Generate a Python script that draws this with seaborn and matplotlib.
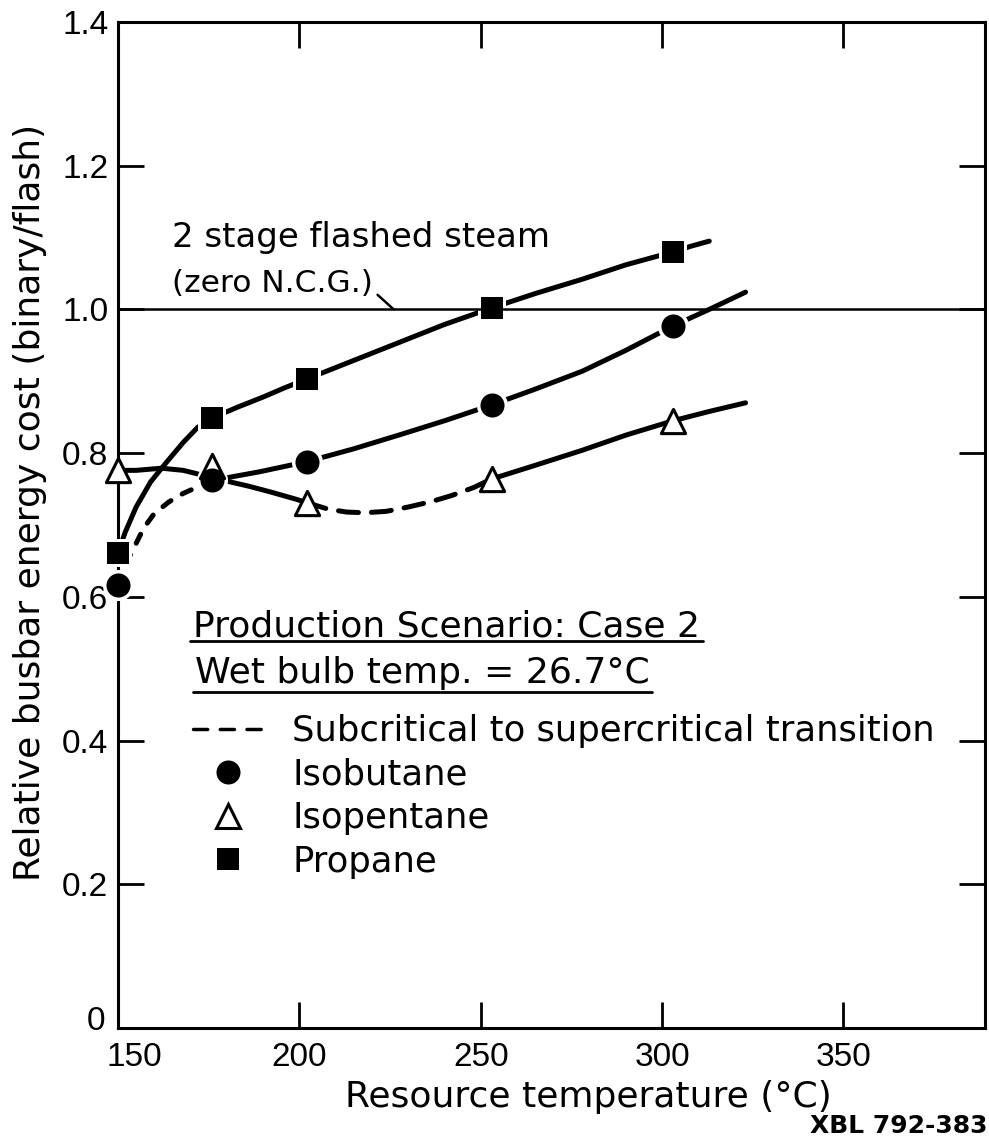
import matplotlib
matplotlib.use('Agg')
import matplotlib.pyplot as plt
import matplotlib.transforms as mtransforms
import seaborn as sns
from matplotlib.lines import Line2D

# marker positions (resource temperature, degC) and relative cost values
temps = [150, 176, 202, 253, 303]
isobutane = [0.616, 0.762, 0.788, 0.867, 0.977]
isopentane = [0.776, 0.782, 0.731, 0.764, 0.845]
propane = [0.661, 0.849, 0.903, 1.002, 1.080]

# hand-drawn curves
propane_T = [150, 152, 155, 159, 163, 168, 172, 176, 183, 190, 196, 202, 215, 228, 240, 253,
             265, 278, 290, 303, 308, 313]
propane_v = [0.661, 0.690, 0.725, 0.760, 0.785, 0.815, 0.836, 0.849, 0.864, 0.878, 0.891, 0.903,
             0.929, 0.955, 0.979, 1.002, 1.022, 1.042, 1.062, 1.080, 1.088, 1.095]

isobutane_dash_T = [150, 152, 154, 157, 160, 164, 168, 172, 176]
isobutane_dash_v = [0.616, 0.645, 0.664, 0.695, 0.716, 0.732, 0.744, 0.753, 0.762]
isobutane_T = [176, 189, 202, 215, 228, 240, 253, 265, 278, 290, 303, 313, 323]
isobutane_v = [0.762, 0.774, 0.788, 0.806, 0.826, 0.845, 0.867, 0.889, 0.914, 0.943, 0.977, 1.000, 1.024]

isopentane_T1 = [150, 155, 162, 168, 172, 176, 180, 186, 192, 199, 202]
isopentane_v1 = [0.776, 0.776, 0.779, 0.776, 0.771, 0.764, 0.761, 0.754, 0.746, 0.736, 0.731]
isopentane_dash_T = [202, 208, 213, 218, 224, 230, 236, 242, 248, 253]
isopentane_dash_v = [0.731, 0.722, 0.718, 0.717, 0.719, 0.725, 0.732, 0.741, 0.752, 0.764]
isopentane_T2 = [253, 265, 278, 290, 303, 313, 323]
isopentane_v2 = [0.764, 0.783, 0.804, 0.825, 0.845, 0.858, 0.870]

flash_ref = 1.0

x_ticks = [150, 200, 250, 300, 350]
y_ticks = [0, 0.2, 0.4, 0.6, 0.8, 1.0, 1.2, 1.4]
y_ticklabels = ['0', '0.2', '0.4', '0.6', '0.8', '1.0', '1.2', '1.4']

sns.set_style('ticks')
plt.rcParams['font.family'] = ['DejaVu Sans']
plt.rcParams['text.color'] = 'black'
plt.rcParams['axes.labelcolor'] = 'black'

fig = plt.figure(figsize=(9.89, 11.43), dpi=100)
ax = fig.add_axes([0.1193, 0.1006, 0.8766, 0.8802])

LW = 3.6


def curve(xs, ys, dashes=None):
    ls = (0, dashes) if dashes else '-'
    sns.lineplot(x=xs, y=ys, sort=False, estimator=None, color='black', lw=LW,
                 linestyle=ls, dash_capstyle='round', solid_capstyle='round',
                 ax=ax, zorder=2)


curve(propane_T, propane_v)
curve(isobutane_dash_T, isobutane_dash_v, dashes=(2, 2.6))
curve(isobutane_T, isobutane_v)
curve(isopentane_T1, isopentane_v1)
curve(isopentane_dash_T, isopentane_dash_v, dashes=(4, 2.6))
curve(isopentane_T2, isopentane_v2)

ax.axhline(flash_ref, color='black', lw=1.8, zorder=3.5)

# white halos so the curves stop short of the symbols, like the pen drawing
sns.scatterplot(x=temps, y=isobutane, marker='o', s=500, color='white', linewidth=0,
                ax=ax, zorder=3, clip_on=False)
sns.scatterplot(x=temps, y=propane, marker='s', s=430, color='white', linewidth=0,
                ax=ax, zorder=3, clip_on=False)

sns.scatterplot(x=temps, y=isopentane, marker='^', s=305, color='white', edgecolor='black',
                linewidth=2.2, ax=ax, zorder=4, clip_on=False)
sns.scatterplot(x=temps, y=isobutane, marker='o', s=300, color='black', linewidth=0,
                ax=ax, zorder=4.5, clip_on=False)
sns.scatterplot(x=temps, y=propane, marker='s', s=250, color='black', linewidth=0,
                ax=ax, zorder=4.5, clip_on=False)

ax.set_xlim(150, 389)
ax.set_ylim(0, 1.4)
ax.set_xticks(x_ticks)
ax.set_xticklabels([str(t) for t in x_ticks])
ax.set_yticks(y_ticks)
ax.set_yticklabels(y_ticklabels)

ax.tick_params(axis='both', direction='in', length=19, width=2, top=True, right=True,
               color='black', labelcolor='black')
ax.tick_params(axis='x', pad=10)
ax.tick_params(axis='y', pad=7)
for sp in ax.spines.values():
    sp.set_linewidth(2.2)
    sp.set_color('black')

for lab in ax.get_xticklabels() + ax.get_yticklabels():
    lab.set_family(['Liberation Sans', 'DejaVu Sans'])
    lab.set_fontsize(24)
    lab.set_color('black')

# nudge the corner labels apart as in the original
xlab0 = ax.xaxis.get_major_ticks()[0].label1
xlab0.set_transform(xlab0.get_transform()
                    + mtransforms.ScaledTranslation(12 / 72, 0, fig.dpi_scale_trans))
ylab0 = ax.yaxis.get_major_ticks()[0].label1
ylab0.set_transform(ylab0.get_transform()
                    + mtransforms.ScaledTranslation(-2 / 72, 7 / 72, fig.dpi_scale_trans))

ax.set_xlabel('Resource temperature (°C)', fontsize=26)
ax.xaxis.set_label_coords(0.542, -0.052)
ax.set_ylabel('Relative busbar energy cost (binary/flash)', fontsize=26)
ax.yaxis.set_label_coords(-0.082, 0.522)

# flashed steam reference note
ax.text(165, 1.087, '2 stage flashed steam', fontsize=24.5, va='baseline')
ax.annotate('(zero N.C.G.)', xy=(226, flash_ref), xytext=(165, 1.024), fontsize=22.5,
            va='baseline',
            arrowprops=dict(arrowstyle='-', lw=1.8, color='black', relpos=(1, 0.25),
                            shrinkA=1, shrinkB=0))

# underlined case description
t1 = ax.text(0.0865, 0.389, 'Production Scenario: Case 2', transform=ax.transAxes,
             fontsize=26, va='baseline')
t2 = ax.text(0.089, 0.343, 'Wet bulb temp. = 26.7°C', transform=ax.transAxes,
             fontsize=26, va='baseline')

handles = [
    Line2D([], [], color='black', lw=2.5, linestyle=(0, (4.1, 3.6)), dash_capstyle='round'),
    Line2D([], [], color='black', marker='o', ms=17.3, lw=0, mew=0),
    Line2D([], [], color='black', marker='^', ms=17.5, lw=0, mfc='white', mec='black', mew=2.2),
    Line2D([], [], color='black', marker='s', ms=15.8, lw=0, mew=0),
]
labels = ['Subcritical to supercritical transition', 'Isobutane', 'Isopentane', 'Propane']
leg = ax.legend(handles, labels, loc='upper left', bbox_to_anchor=(0.0865, 0.312), frameon=False,
                fontsize=25.5, handlelength=2.0, handletextpad=0.8, labelspacing=0.27,
                borderpad=0, borderaxespad=0)
for txt in leg.get_texts():
    txt.set_color('black')

fig.text(0.998, 0.004, 'XBL 792-383', ha='right', va='bottom', fontsize=18, fontweight='bold',
         color='black')

fig.canvas.draw()
inv = ax.transAxes.inverted()
for t, off in [(t1, 0.004), (t2, 0.009)]:
    bb = t.get_window_extent()
    (x0, _), (x1, _) = inv.transform([[bb.x0, bb.y0], [bb.x1, bb.y1]])
    yb = t.get_position()[1] - off
    ax.plot([x0 - 0.003, x1 + 0.003], [yb, yb], transform=ax.transAxes, color='black',
            lw=2.0, clip_on=False)

fig.savefig('out.png', dpi=100)
